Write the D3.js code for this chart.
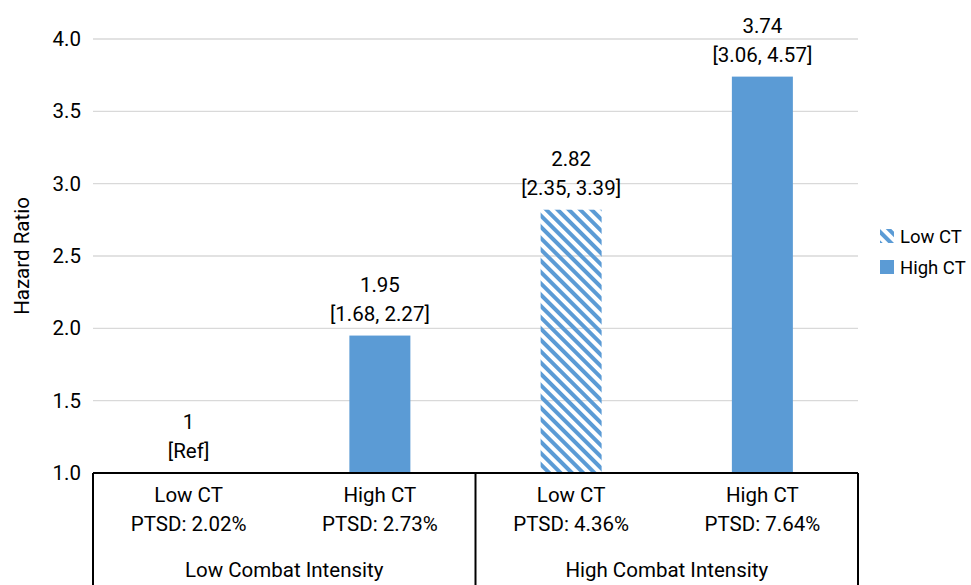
<!DOCTYPE html>
<html>
<head>
<meta charset="utf-8">
<script src="https://cdn.jsdelivr.net/npm/d3@7"></script>
<style>
  body { margin: 0; background: #fff; }
  svg text { font-family: "Roboto", "Liberation Sans", sans-serif; font-size: 20.5px; fill: #000; }
</style>
</head>
<body>
<svg id="chart" width="971" height="585"></svg>
<script>
// chart data
var groups = ["Low Combat Intensity", "High Combat Intensity"];
var ctLevels = ["Low CT", "High CT"];
var ptsd = ["PTSD: 2.02%", "PTSD: 2.73%", "PTSD: 4.36%", "PTSD: 7.64%"];
var hazard = [1, 1.95, 2.82, 3.74];
var valueLabels = ["1", "1.95", "2.82", "3.74"];
var ciLabels = ["[Ref]", "[1.68, 2.27]", "[2.35, 3.39]", "[3.06, 4.57]"];
var yTicks = [1.0, 1.5, 2.0, 2.5, 3.0, 3.5, 4.0];

var blue = "#5b9bd5";
var svg = d3.select("#chart");
var plotL = 93, plotR = 858, plotT = 39, plotB = 473;

var bars = hazard.map(function (v, i) {
    return { key: i, value: v, ct: ctLevels[i % 2], group: groups[Math.floor(i / 2)] };
});

var x = d3.scaleBand().domain(d3.range(bars.length)).range([plotL, plotR]).paddingInner(0).paddingOuter(0);
var y = d3.scaleLinear().domain([1, 4]).range([plotB, plotT]);
var barW = 61;

// hatch for Low CT in the high intensity group
var defs = svg.append("defs");
var pat = defs.append("pattern")
    .attr("id", "hatch")
    .attr("patternUnits", "userSpaceOnUse")
    .attr("width", 8).attr("height", 8)
    .attr("patternTransform", "rotate(45)");
pat.append("rect").attr("width", 8).attr("height", 4).attr("fill", blue);

// gridlines
svg.append("g").selectAll("line").data(yTicks.slice(1)).enter().append("line")
    .attr("x1", plotL).attr("x2", plotR)
    .attr("y1", function (d) { return y(d); }).attr("y2", function (d) { return y(d); })
    .attr("stroke", "#d9d9d9").attr("stroke-width", 1.3);

// y axis labels
var yAxis = d3.axisLeft(y).tickValues(yTicks).tickFormat(d3.format(".1f")).tickSize(0).tickPadding(12);
var yg = svg.append("g").attr("transform", "translate(" + plotL + ",0)").call(yAxis);
yg.select(".domain").remove();
yg.selectAll("text").attr("font-size", null).attr("font-family", null).attr("fill", null);

svg.append("text")
    .attr("transform", "translate(29," + ((plotT + plotB) / 2) + ") rotate(-90)")
    .attr("text-anchor", "middle")
    .text("Hazard Ratio");

// bars
svg.append("g").selectAll("rect").data(bars).enter().append("rect")
    .attr("x", function (d) { return x(d.key) + x.bandwidth() / 2 - barW / 2; })
    .attr("width", barW)
    .attr("y", function (d) { return y(d.value); })
    .attr("height", function (d) { return y(1) - y(d.value); })
    .attr("fill", function (d) { return d.ct === "Low CT" ? "url(#hatch)" : blue; });

// value labels
var lab = svg.append("g").selectAll("g").data(bars).enter().append("g");
lab.append("text")
    .attr("x", function (d) { return x(d.key) + x.bandwidth() / 2; })
    .attr("y", function (d) { return y(d.value) - 44; })
    .attr("text-anchor", "middle")
    .text(function (d) { return valueLabels[d.key]; });
lab.append("text")
    .attr("x", function (d) { return x(d.key) + x.bandwidth() / 2; })
    .attr("y", function (d) { return y(d.value) - 15; })
    .attr("text-anchor", "middle")
    .text(function (d) { return ciLabels[d.key]; });

// category table below the axis
var tbl = svg.append("g");
tbl.append("line").attr("x1", plotL).attr("x2", plotR).attr("y1", plotB).attr("y2", plotB)
    .attr("stroke", "#000").attr("stroke-width", 2);
[plotL, x(2), plotR].forEach(function (xx) {
    tbl.append("line").attr("x1", xx).attr("x2", xx).attr("y1", plotB).attr("y2", 585)
        .attr("stroke", "#000").attr("stroke-width", 2);
});
bars.forEach(function (d) {
    var cx = x(d.key) + x.bandwidth() / 2;
    tbl.append("text").attr("x", cx).attr("y", 502).attr("text-anchor", "middle").text(d.ct);
    tbl.append("text").attr("x", cx).attr("y", 531).attr("text-anchor", "middle").text(ptsd[d.key]);
});
groups.forEach(function (g, i) {
    var cx = (x(i * 2) + x(i * 2 + 1) + x.bandwidth()) / 2;
    tbl.append("text").attr("x", cx).attr("y", 577).attr("text-anchor", "middle").text(g);
});

// legend
var leg = svg.append("g").attr("transform", "translate(880,229)");
ctLevels.forEach(function (c, i) {
    var row = leg.append("g").attr("transform", "translate(0," + (i * 31) + ")");
    row.append("rect").attr("width", 14).attr("height", 14)
        .attr("fill", c === "Low CT" ? "url(#hatch)" : blue);
    row.append("text").attr("x", 20).attr("y", 14).style("font-size", "18.5px").text(c);
});
</script>
</body>
</html>
